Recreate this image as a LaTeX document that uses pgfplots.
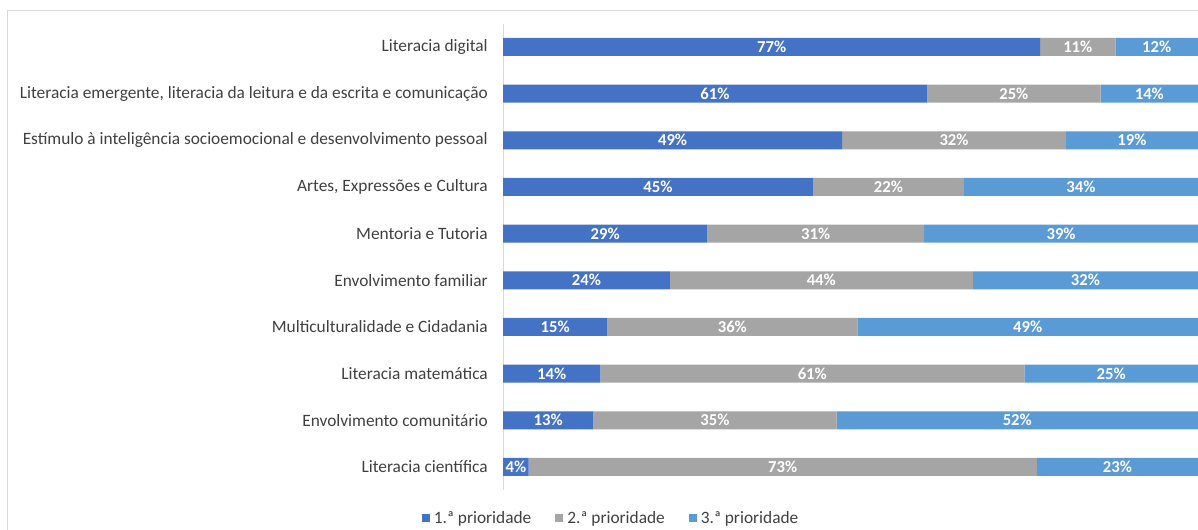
\documentclass[border=0pt]{standalone}
\usepackage{fontspec}
\setmainfont{Carlito}
\usepackage{pgfplots}
\usepackage{pgfplotstable}
\pgfplotsset{compat=1.18}
\definecolor{c1}{HTML}{4472C4}
\definecolor{c2}{HTML}{A5A5A5}
\definecolor{c3}{HTML}{5B9BD5}
\definecolor{bord}{HTML}{D9D9D9}
\definecolor{txt}{HTML}{404040}

\pgfplotstableread{
y a b c
0 77.3 10.8 11.9
1 61 25 14
2 48.8 32.2 19
3 44.6 21.7 33.7
4 29.4 31.2 39.4
5 24 43.6 32.4
6 15 36 49
7 14 61 25
8 13 35 52
9 3.7 73.1 23.2
}\data

\pgfplotsset{sqleg/.style={legend image code/.code={\fill[##1] (0pt,-3pt) rectangle (6pt,3pt);}}}

\begin{document}
\begin{tikzpicture}
\useasboundingbox (0,0) rectangle (898.5pt,397.5pt);
\draw[bord] (5.25pt,-5pt) -- (5.25pt,390pt) -- (905pt,390pt);
\begin{axis}[
  at={(377.25pt,29.78pt)}, anchor=south west,
  scale only axis, width=521.25pt, height=350pt,
  xbar stacked, bar width=13.5pt,
  xmin=0, xmax=100, ymin=-0.5, ymax=9.5, y dir=reverse,
  axis x line=none, axis y line=left,
  y axis line style={draw=bord,-},
  clip=false,
  ytick={0,...,9},
  yticklabels={Literacia digital,
    {Literacia emergente, literacia da leitura e da escrita e comunicação},
    Estímulo à inteligência socioemocional e desenvolvimento pessoal,
    {Artes, Expressões e Cultura},
    Mentoria e Tutoria,
    Envolvimento familiar,
    Multiculturalidade e Cidadania,
    Literacia matemática,
    Envolvimento comunitário,
    Literacia científica},
  major tick length=0pt,
  yticklabel style={font=\fontsize{13}{15}\selectfont, text=txt, anchor=east, inner sep=0pt, xshift=-11.25pt},
  nodes near coords={\pgfmathprintnumber[fixed,precision=0,assume math mode=true]{\myval}\%},
  every node near coord/.append style={anchor=center, text=white, inner sep=0pt, font=\bfseries\fontsize{12.5}{15}\selectfont},
  legend columns=3,
  legend style={at={(0.157,-0.0594)}, anchor=center, draw=none, fill=none,
    font=\fontsize{13}{15}\selectfont, text=txt,
    /tikz/every even column/.append style={column sep=15pt},
    /tikz/every odd column/.append style={column sep=0pt},
    nodes={inner xsep=3pt}},
]
\addplot[fill=c1, draw=none, sqleg, visualization depends on={\thisrow{a} \as \myval}] table[x=a, y=y] {\data};
\addplot[fill=c2, draw=none, sqleg, visualization depends on={\thisrow{b} \as \myval}] table[x=b, y=y] {\data};
\addplot[fill=c3, draw=none, sqleg, visualization depends on={\thisrow{c} \as \myval}] table[x=c, y=y] {\data};
\legend{1.ª prioridade, 2.ª prioridade, 3.ª prioridade}
\end{axis}
\end{tikzpicture}
\end{document}
